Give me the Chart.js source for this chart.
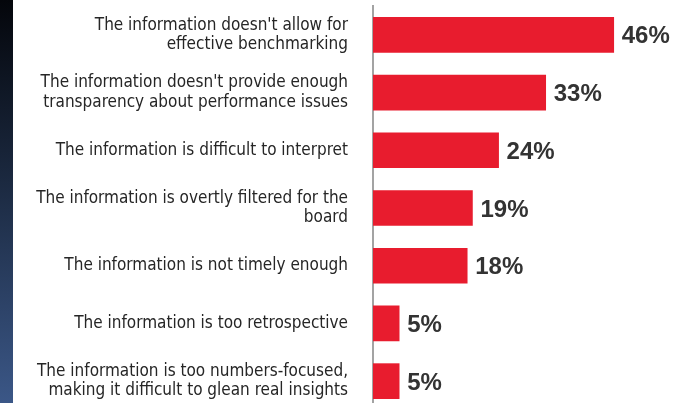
<!DOCTYPE html>
<html>
<head>
<meta charset="utf-8">
<script src="https://cdn.jsdelivr.net/npm/chart.js@4/dist/chart.umd.min.js"></script>
<style>
  html, body { margin: 0; padding: 0; background: #fff; overflow: hidden; }
  #wrap { position: relative; width: 688px; height: 412px; }
  #strip { position: absolute; left: 0; top: 0; width: 13px; height: 403px;
           background: linear-gradient(to bottom, #04060b 0%, #1b2940 45%, #3b5787 100%); z-index: 2; }
</style>
</head>
<body>
<div id="wrap">
  <div id="strip"></div>
  <canvas id="reasons"></canvas>
</div>
<script>
// survey answers, top to bottom
const reasons = [
    ["The information doesn't allow for", "effective benchmarking"],
    ["The information doesn't provide enough", "transparency about performance issues"],
    "The information is difficult to interpret",
    ["The information is overtly filtered for the", "board"],
    "The information is not timely enough",
    "The information is too retrospective",
    ["The information is too numbers-focused,", "making it difficult to glean real insights"]
];
const shares = [46, 33, 24, 19, 18, 5, 5];

// percent text to the right of each bar
const valueLabels = {
    id: 'valueLabels',
    afterDatasetsDraw(chart) {
        const ctx = chart.ctx;
        const meta = chart.getDatasetMeta(0);
        ctx.save();
        ctx.font = 'bold 24px "Liberation Sans", Arial, sans-serif';
        ctx.fillStyle = '#333';
        ctx.textAlign = 'left';
        ctx.textBaseline = 'middle';
        meta.data.forEach((bar, i) => {
            ctx.fillText(shares[i] + '%', bar.x + 8, bar.y + 2);
        });
        ctx.restore();
    }
};

new Chart(document.getElementById('reasons').getContext('2d'), {
    type: 'bar',
    data: {
        labels: reasons,
        datasets: [{
            data: shares,
            backgroundColor: '#e81c2e',
            barThickness: 35
        }]
    },
    options: {
        indexAxis: 'y',
        responsive: true,
        maintainAspectRatio: false,
        animation: false,
        layout: { padding: { top: 6, bottom: 2, right: 1, left: 0 } },
        plugins: {
            legend: { display: false },
            tooltip: { enabled: false }
        },
        scales: {
            x: {
                display: false,
                min: 0,
                max: 60
            },
            y: {
                afterFit(scale) {
                    // fixed label column, no extra room for the first/last labels
                    scale.width = 373;
                    scale.paddingTop = 0;
                    scale.paddingBottom = 0;
                },
                grid: { display: false, drawTicks: false },
                border: { display: true, color: '#a3a3a3', width: 2 },
                ticks: {
                    padding: 25,
                    color: '#262626',
                    font: { family: '"DejaVu Sans Condensed", "DejaVu Sans", sans-serif', size: 17, lineHeight: 1.15 }
                }
            }
        }
    },
    plugins: [valueLabels]
});
</script>
</body>
</html>
